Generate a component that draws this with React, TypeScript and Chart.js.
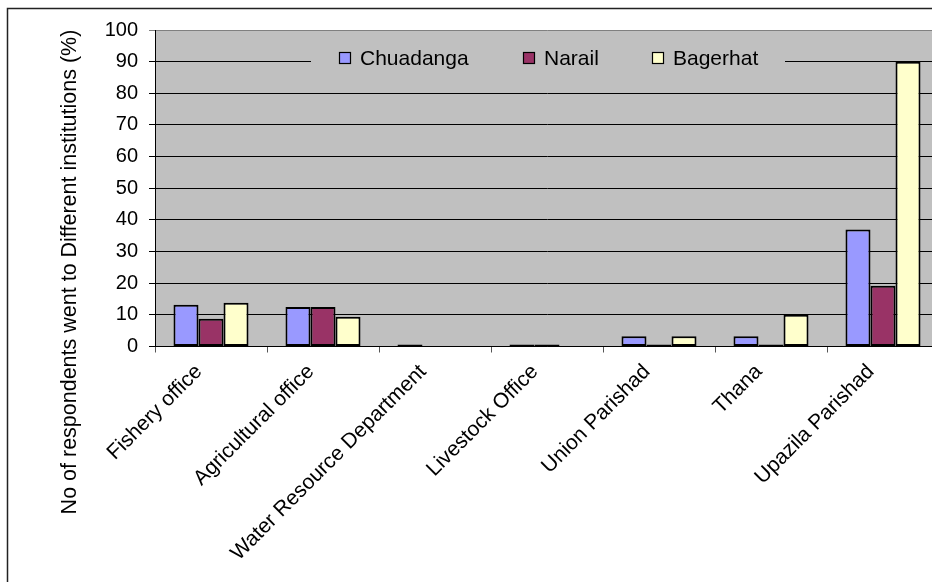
import React, { useEffect, useRef } from "react";
import { Chart, registerables } from "chart.js";

Chart.register(...registerables);

const categories = [
  "Fishery office",
  "Agricultural office",
  "Water Resource Department",
  "Livestock Office",
  "Union Parishad",
  "Thana",
  "Upazila Parishad",
];
const chuadanga = [13.2, 12.5, 0.6, 0.6, 3.2, 3.2, 37];
const narail = [8.8, 12.5, 0, 0.6, 0.6, 0.6, 19.2];
const bagerhat = [13.8, 9.4, 0, 0, 3.2, 10, 90];
const seriesNames = ["Chuadanga", "Narail", "Bagerhat"];
const seriesColors = ["#9999FF", "#993366", "#FFFFCC"];
const yTitle = "No of respondents went to Different institutions (%)";

const FONT = "'Liberation Sans', Arial, sans-serif";

const decor = {
  id: "decor",
  beforeDraw(chart: any) {
    const { ctx, chartArea } = chart;
    ctx.save();
    ctx.fillStyle = "#ffffff";
    ctx.fillRect(0, 0, chart.width, chart.height);
    ctx.fillStyle = "#C0C0C0";
    ctx.fillRect(chartArea.left, chartArea.top, chartArea.right - chartArea.left, chartArea.bottom - chartArea.top);
    ctx.restore();
  },
  afterDraw(chart: any) {
    const { ctx } = chart;
    ctx.save();
    // frame
    ctx.strokeStyle = "#222";
    ctx.lineWidth = 1.5;
    ctx.beginPath();
    ctx.moveTo(7.5, 600);
    ctx.lineTo(7.5, 8.5);
    ctx.lineTo(1000, 8.5);
    ctx.stroke();
    // y title
    ctx.fillStyle = "#000";
    ctx.font = `21.5px ${FONT}`;
    ctx.textAlign = "center";
    ctx.textBaseline = "middle";
    ctx.translate(70, 272);
    ctx.rotate(-Math.PI / 2);
    ctx.fillText(yTitle, 0, 0);
    ctx.restore();

    // legend
    ctx.save();
    ctx.fillStyle = "#C0C0C0";
    ctx.fillRect(311, 44, 474, 32);
    const boxX = [339, 523, 652];
    ctx.font = `21px ${FONT}`;
    ctx.textBaseline = "alphabetic";
    ctx.textAlign = "left";
    for (let i = 0; i < seriesNames.length; i++) {
      ctx.fillStyle = seriesColors[i];
      ctx.fillRect(boxX[i], 52, 12, 12);
      ctx.strokeStyle = "#000";
      ctx.lineWidth = 1.2;
      ctx.strokeRect(boxX[i] + 0.5, 52.5, 11, 11);
      ctx.fillStyle = "#000";
      ctx.fillText(seriesNames[i], boxX[i] + 21, 65);
    }
    ctx.restore();
  },
};

export default function App() {
  const ref = useRef<HTMLCanvasElement>(null);
  useEffect(() => {
    if (!ref.current) return;
    const data = [chuadanga, narail, bagerhat];
    const chart = new Chart(ref.current, {
      type: "bar",
      data: {
        labels: categories,
        datasets: seriesNames.map((name, i) => ({
          label: name,
          data: data[i],
          backgroundColor: seriesColors[i],
          borderColor: "#000",
          borderWidth: 2,
          borderSkipped: false,
          categoryPercentage: 0.67,
          barPercentage: 1,
        })),
      },
      options: {
        responsive: false,
        animation: false,
        devicePixelRatio: 1,
        layout: { padding: { top: 30, left: 0, right: 21, bottom: 0 } },
        plugins: { legend: { display: false }, tooltip: { enabled: false } },
        scales: {
          x: {
            afterFit(scale: any) {
              scale.height = 582 - 346.5;
            },
            grid: {
              offset: true,
              drawOnChartArea: false,
              drawTicks: true,
              tickLength: 6,
              color: "#555",
            },
            border: { color: "#000", width: 1 },
            ticks: {
              maxRotation: 45,
              minRotation: 45,
              autoSkip: false,
              color: "#000",
              font: { family: FONT, size: 21 },
              padding: 7,
              labelOffset: -12,
            },
          },
          y: {
            min: 0,
            max: 100,
            afterFit(scale: any) {
              scale.width = 155;
            },
            grid: {
              color: (c: any) => (c.tick && c.tick.value === 100 ? "#808080" : "#000"),
              lineWidth: 1,
              drawTicks: true,
              tickLength: 6,
            },
            border: { color: "#000", width: 1 },
            ticks: {
              stepSize: 10,
              color: "#000",
              font: { family: FONT, size: 20 },
              padding: 11,
            },
          },
        },
      },
      plugins: [decor],
    });
    return () => chart.destroy();
  }, []);
  return (
    <div style={{ position: "absolute", left: 0, top: 0, width: 932, height: 582, overflow: "hidden", background: "#fff" }}>
      <canvas ref={ref} width={960} height={582} style={{ display: "block", width: 960, height: 582 }} />
    </div>
  );
}
